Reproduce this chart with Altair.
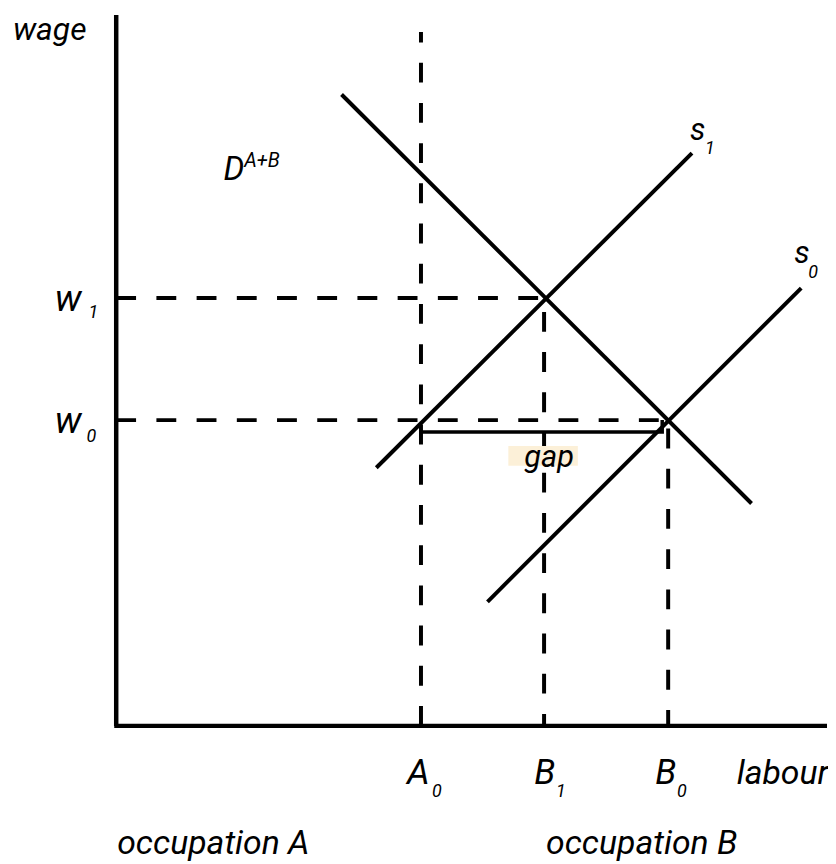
import altair as alt
import pandas as pd

# ---- diagram data (labour on x, wage on y; origin at the axes corner) ----
curve_names = ["D", "D", "S1", "S1", "S0", "S0"]
curve_x = [227, 640, 262, 580, 374, 690]
curve_y = [636, 224, 260, 577, 125, 441]

# equilibrium levels
w_names = ["w1", "w0"]
w_values = [431, 308]
w_ends = [431, 556]          # horizontal guide ends at B1 / B0
q_names = ["A0", "B1", "B0"]
q_values = [307, 431, 556]
q_tops = [699, 431, 308]
q_dash_offsets = [9.5, 26.5, 32]

# gap bracket
gap_x = [307, 550, 550]
gap_y = [296, 296, 308]
gap_order = [0, 1, 2]

# labels
label_text = ["wage", "D", "A+B", "w", "1", "w", "0", "s", "1", "s", "0",
              "A", "0", "B", "1", "B", "0", "labour",
              "occupation A", "occupation B", "gap"]
label_x = [-104, 108, 129, -62, -28, -62, -30, 578, 593, 683, 697,
           293, 318, 421, 443, 543, 565, 625, 1, 433, 411]
label_y = [691, 550, 563, 418, 411, 295, 286, 590, 576, 466, 451,
           -59, -72, -59, -72, -59, -72, -59, -129, -129, 261]
label_size = [32, 33, 20, 37, 18, 37, 18, 31, 18, 31, 18,
              36, 18, 35, 18, 35, 18, 34, 34, 34, 31]

FONT = "Roboto"
xs = alt.Scale(domain=[-109, 717], nice=False, zero=False)
ys = alt.Scale(domain=[-136, 720], nice=False, zero=False)

def X(f):
    return alt.X(f, type="quantitative", scale=xs, axis=None)

def Y(f):
    return alt.Y(f, type="quantitative", scale=ys, axis=None)

layers = []

# axes
axes_df = pd.DataFrame({"x": [0, -2], "x2": [0, 716], "y": [716, 0], "y2": [0, 0]})
layers.append(
    alt.Chart(axes_df).mark_rule(color="black", strokeWidth=4.5).encode(
        x=X("x"), x2="x2", y=Y("y"), y2="y2")
)

# horizontal dashed guides
for name, v, e in zip(w_names, w_values, w_ends):
    d = pd.DataFrame({"x": [0], "x2": [e], "y": [v]})
    layers.append(
        alt.Chart(d).mark_rule(color="black", strokeWidth=4,
                               strokeDash=[20, 20.5]).encode(
            x=X("x"), x2="x2", y=Y("y"))
    )

# vertical dashed guides
for name, v, t, o in zip(q_names, q_values, q_tops, q_dash_offsets):
    d = pd.DataFrame({"x": [v], "y": [t], "y2": [0]})
    layers.append(
        alt.Chart(d).mark_rule(color="black", strokeWidth=4,
                               strokeDash=[20, 20.5], strokeDashOffset=o).encode(
            x=X("x"), y=Y("y"), y2="y2")
    )

# demand and supply curves
curves_df = pd.DataFrame({"curve": curve_names, "x": curve_x, "y": curve_y})
layers.append(
    alt.Chart(curves_df).mark_line(color="black", strokeWidth=4).encode(
        x=X("x"), y=Y("y"), detail="curve:N")
)

# gap bracket
gap_df = pd.DataFrame({"x": gap_x, "y": gap_y, "o": gap_order})
layers.append(
    alt.Chart(gap_df).mark_line(color="black", strokeWidth=3.5).encode(
        x=X("x"), y=Y("y"), order="o:Q")
)

# highlight behind "gap"
box_df = pd.DataFrame({"x": [395], "x2": [465], "y": [282], "y2": [262]})
layers.append(
    alt.Chart(box_df).mark_rect(color="#FCF0D8").encode(
        x=X("x"), x2="x2", y=Y("y"), y2="y2")
)

# labels
lab_df = pd.DataFrame({"text": label_text, "x": label_x, "y": label_y, "size": label_size})
layers.append(
    alt.Chart(lab_df).mark_text(font=FONT, fontStyle="italic",
                                align="left", baseline="alphabetic", color="black").encode(
        x=X("x"), y=Y("y"), text="text:N",
        size=alt.Size("size:Q", scale=None, legend=None))
)

chart = alt.layer(*layers).properties(
    width=826, height=856,
    autosize=alt.AutoSizeParams(type="none"),
    padding=0,
    background="white",
).configure_view(stroke=None)

chart.save("out.html", embed_options={"renderer": "svg", "actions": False})
